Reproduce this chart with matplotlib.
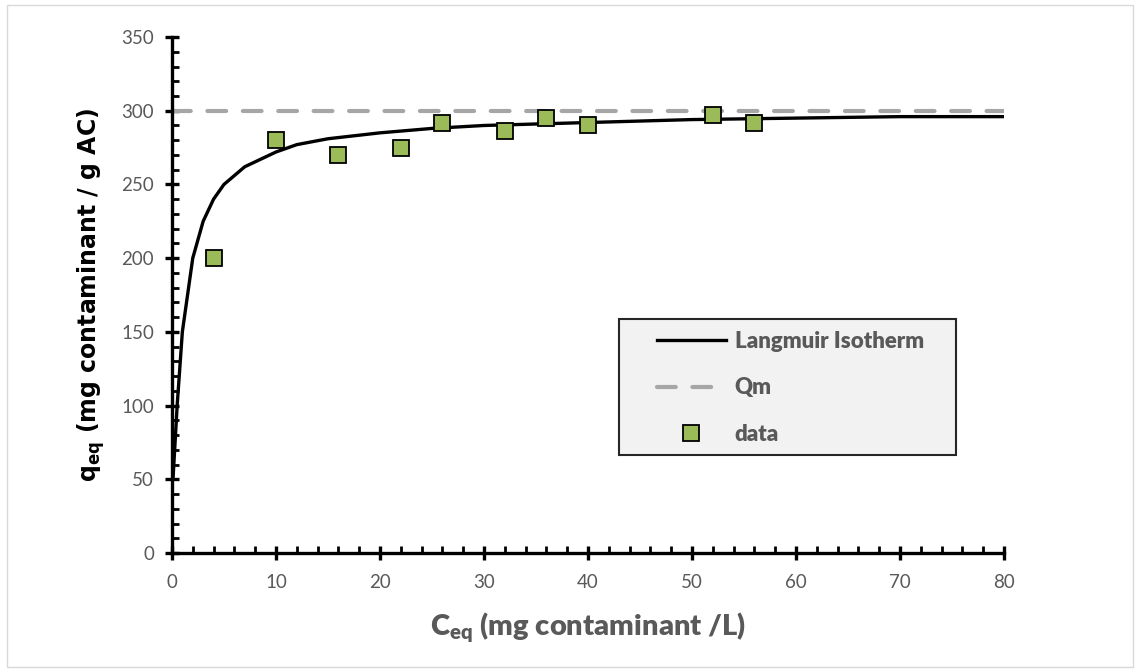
import numpy as np
import matplotlib.pyplot as plt
from matplotlib.patches import Rectangle
from matplotlib.ticker import MultipleLocator

plt.rcParams['mathtext.fontset'] = 'custom'
plt.rcParams['mathtext.bf'] = 'Lato:weight=heavy'
plt.rcParams['mathtext.sf'] = 'DejaVu Sans:weight=bold'

# Langmuir fit curve
c_fit = [0.1, 0.5, 1, 2, 3, 4, 5, 7, 10, 12, 15, 20, 25, 30, 40, 50, 60, 70, 80]
q_fit = [50, 100, 150, 200, 225, 240, 250, 262, 272, 277, 281, 285, 288, 290, 292, 294, 295, 296, 296]

# measured points
c_data = [4, 10, 16, 22, 26, 32, 36, 40, 52, 56]
q_data = [200, 280, 270, 275, 292, 286, 295, 290, 297, 292]

qm = 300
qm_x = [0, 80]

grey = '#595959'

fig = plt.figure(figsize=(11.38, 6.72), dpi=100)
fig.patches.append(Rectangle((0.006, 0.007), 0.99, 0.986, transform=fig.transFigure,
                             fill=False, edgecolor='#d9d9d9', linewidth=1))
ax = fig.add_axes([0.1511, 0.1771, 0.7311, 0.7678])

ax.plot(qm_x, [qm, qm], color='#a6a6a6', linewidth=3, linestyle=(0, (4.5, 4)),
        dash_capstyle='round', label='Qm', zorder=2)
ax.plot(c_fit, q_fit, color='black', linewidth=2.4, label='Langmuir Isotherm', zorder=3)
ax.plot(c_data, q_data, linestyle='none', marker='s', markersize=11,
        markerfacecolor='#9bbb59', markeredgecolor='black', markeredgewidth=1.3,
        label='data', zorder=4)

ax.set_xlim(0, 80)
ax.set_ylim(0, 350)
ax.xaxis.set_major_locator(MultipleLocator(10))
ax.xaxis.set_minor_locator(MultipleLocator(2))
ax.yaxis.set_major_locator(MultipleLocator(50))
ax.yaxis.set_minor_locator(MultipleLocator(10))

for s in ['top', 'right']:
    ax.spines[s].set_visible(False)
for s in ['left', 'bottom']:
    ax.spines[s].set_linewidth(2.4)
ax.tick_params(which='major', direction='inout', length=10, width=2.4,
               labelsize=13.5, labelcolor=grey, pad=8)
ax.tick_params(which='minor', direction='in', length=5, width=2)
for lab in ax.get_xticklabels() + ax.get_yticklabels():
    lab.set_fontfamily('Lato')
ax.tick_params(axis='x', pad=10)

ax.set_xlabel(r'C$_{\mathbf{eq}}$ (mg contaminant /L)', fontsize=21, fontweight='heavy',
              color=grey, fontfamily='Lato', labelpad=14)
ax.set_ylabel(r'q$_{\mathsf{eq}}$ (mg contaminant / g AC)', fontsize=17, fontweight='bold',
              color='black', fontfamily='DejaVu Sans', labelpad=10)

# legend box drawn separately so the entries can sit where they do in the original
ax.add_patch(Rectangle((0.537, 0.19), 0.405, 0.2635, transform=ax.transAxes,
                       facecolor='#f2f2f2', edgecolor='#262626', linewidth=1.5,
                       zorder=4.5, clip_on=False))
h, l = ax.get_legend_handles_labels()
order = [1, 0, 2]
leg = ax.legend([h[i] for i in order], [l[i] for i in order],
                loc='center left', bbox_to_anchor=(0.583, 0.3198),
                frameon=False, borderpad=0, borderaxespad=0,
                handlelength=3.1, handletextpad=0.4, labelspacing=1.15,
                prop={'family': 'Lato', 'weight': 'heavy', 'size': 16},
                labelcolor=grey)
leg.set_zorder(6)

fig.savefig('out.png', dpi=100)
